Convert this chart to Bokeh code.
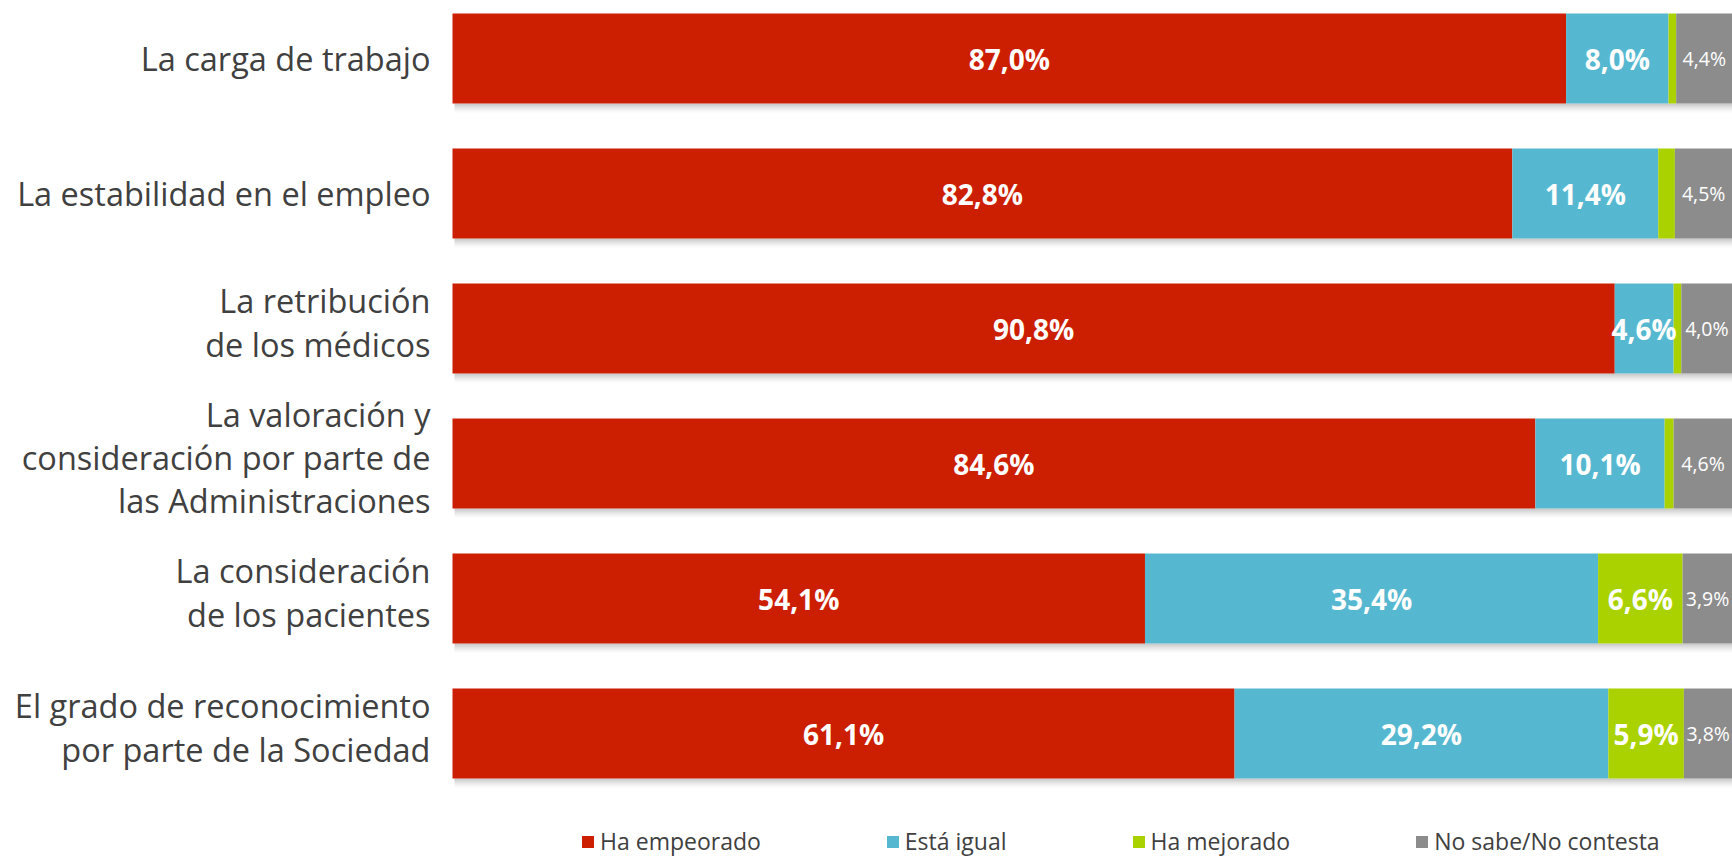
from bokeh.plotting import figure
from bokeh.models import Range1d, ColumnDataSource, Legend, LegendItem
from bokeh.core.properties import value
from bokeh.embed import file_html
from bokeh.resources import INLINE

categories = [
    "La carga de trabajo",
    "La estabilidad en el empleo",
    "La retribución\nde los médicos",
    "La valoración y\nconsideración por parte de\nlas Administraciones",
    "La consideración\nde los pacientes",
    "El grado de reconocimiento\npor parte de la Sociedad",
]
empeorado = [87.0, 82.8, 90.8, 84.6, 54.1, 61.1]
igual = [8.0, 11.4, 4.6, 10.1, 35.4, 29.2]
mejorado = [0.6, 1.3, 0.6, 0.7, 6.6, 5.9]
nsnc = [4.4, 4.5, 4.0, 4.6, 3.9, 3.8]
series_names = ["Ha empeorado", "Está igual", "Ha mejorado", "No sabe/No contesta"]
colors = ["#CC1E00", "#56B8D0", "#AAD200", "#8C8C8C"]

W, H = 1732, 857
LEFT_PX = 452          # bars start (canvas px)
PX_PER_UNIT = (W - LEFT_PX) / 100.0
PITCH = 135.0
TOP_PX = 58.0          # centre of first bar

p = figure(width=W, height=H, output_backend="svg", toolbar_location=None,
           x_range=Range1d(-LEFT_PX / PX_PER_UNIT, 100),
           y_range=Range1d((H - TOP_PX) / PITCH, -TOP_PX / PITCH),
           min_border=0, min_border_left=0, min_border_right=0,
           min_border_top=0, min_border_bottom=0)
p.axis.visible = False
p.grid.visible = False
p.outline_line_color = None
p.background_fill_color = "white"
p.border_fill_color = "white"

idx = list(range(len(categories)))
bar_h = 90.0 / PITCH
series = [empeorado, igual, mejorado, nsnc]

# shadows
n_layers = 10
for i in idx:
    total = sum(s[i] for s in series)
    for k in range(n_layers):
        a = 0.30 * (1 - k / n_layers) ** 1.6
        p.quad(left=[2 / PX_PER_UNIT], right=[total],
               top=[i + bar_h / 2 + k / PITCH], bottom=[i + bar_h / 2 + (k + 1) / PITCH],
               fill_color="#404040", fill_alpha=a, line_color=None)

renderers = []
cum = [0.0] * len(idx)
centers = []
for s, c in zip(series, colors):
    left = cum[:]
    right = [l + v for l, v in zip(left, s)]
    src = ColumnDataSource(dict(y=idx, left=left, right=right))
    r = p.hbar(y="y", left="left", right="right", height=bar_h, source=src,
               fill_color=c, line_color=None)
    renderers.append(r)
    centers.append([(l + rr) / 2 for l, rr in zip(left, right)])
    cum = right

def fmt(v):
    return f"{v:.1f}%".replace(".", ",")

# bold labels
bx, by, bt = [], [], []
for si, s in enumerate(series[:3]):
    for i in idx:
        if s[i] >= 3:
            bx.append(centers[si][i]); by.append(i); bt.append(fmt(s[i]))
p.text(x=bx, y=by, text=bt, text_align="center", text_baseline="middle",
       text_font=value("Open Sans"), text_font_style="bold", text_font_size="28px",
       text_color="white")
# small grey labels
p.text(x=centers[3], y=idx, text=[fmt(v) for v in nsnc], text_align="center",
       text_baseline="middle", text_font=value("Open Sans"), text_font_size="19.5px",
       text_color="white")

# category labels
yoff = [0 if "\n" not in c else -6 for c in categories]
src_c = ColumnDataSource(dict(x=[0] * len(idx), y=idx, text=categories, yoff=yoff))
p.text(x="x", y="y", text="text", y_offset="yoff", x_offset=-22, source=src_c,
       text_align="right", text_baseline="middle", text_font=value("Open Sans"),
       text_font_size="32.5px", text_line_height=0.96, text_color="#404040")

legend = Legend(items=[LegendItem(label=n, renderers=[r]) for n, r in zip(series_names, renderers)],
                orientation="horizontal", location=(580, 0), spacing=124,
                glyph_width=15, glyph_height=15, label_standoff=5,
                label_text_font="Open Sans", label_text_font_size="23px",
                label_text_color="#404040", padding=0, margin=0,
                border_line_alpha=0, background_fill_alpha=0)
p.add_layout(legend, "center")

open("out.html", "w").write(file_html(p, INLINE))
